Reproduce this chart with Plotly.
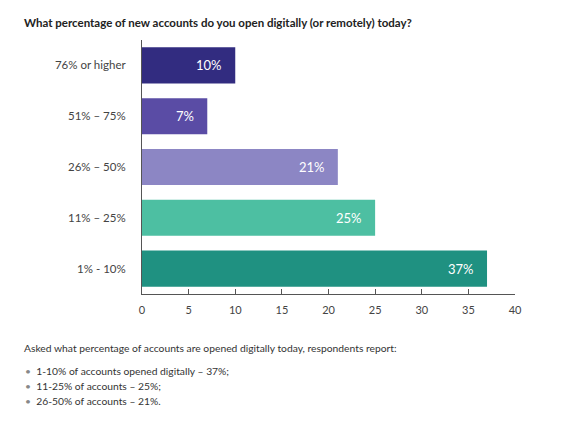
import plotly.graph_objects as go

categories = ["1% - 10%", "11% – 25%", "26% – 50%", "51% – 75%", "76% or higher"]
values = [37, 25, 21, 7, 10]
labels = ["37%", "25%", "21%", "7%", "10%"]
colors = ["#1f9181", "#4dbfa2", "#8c86c4", "#5a4ca5", "#322c80"]
tick_vals = [0, 5, 10, 15, 20, 25, 30, 35, 40]

title = "What percentage of new accounts do you open digitally (or remotely) today?"
note = "Asked what percentage of accounts are opened digitally today, respondents report:"
bullets = [
    "1-10% of accounts opened digitally – 37%;",
    "11-25% of accounts – 25%;",
    "26-50% of accounts – 21%.",
]

FONT = "Lato, 'Open Sans', sans-serif"
PW = 373.0   # plot width px
PH = 254.5   # plot height px

fig = go.Figure()
fig.add_trace(go.Bar(
    y=categories, x=values, orientation="h",
    marker=dict(color=colors, line=dict(width=0)),
    width=0.71, hoverinfo="skip",
))

for c, v, t in zip(categories, values, labels):
    fig.add_annotation(x=v, y=c, text=t, xanchor="right", xshift=-11,
                       showarrow=False, font=dict(family=FONT, size=13, color="white"))

fig.add_annotation(xref="paper", yref="paper", x=-120/PW, y=1 + 18/PH,
                   xanchor="left", yanchor="middle", text="<b>" + title + "</b>",
                   showarrow=False, font=dict(family=FONT, size=11.5, color="#222"))

fig.add_annotation(xref="paper", yref="paper", x=-120/PW, y=-(349 - 294.5)/PH,
                   xanchor="left", yanchor="middle", text=note,
                   showarrow=False, font=dict(family=FONT, size=10.3, color="#333"))
for i, b in enumerate(bullets):
    ypix = 372 + 15 * i
    fig.add_annotation(xref="paper", yref="paper", x=-119/PW, y=-(ypix - 294.5)/PH,
                       xanchor="left", yanchor="middle",
                       text="<span style='color:#888'>•</span>  " + b,
                       showarrow=False, font=dict(family=FONT, size=10.3, color="#333"))

fig.update_layout(
    width=557, height=413,
    margin=dict(l=134, r=50, t=32, b=126.5),
    paper_bgcolor="white", plot_bgcolor="white",
    showlegend=False,
    font=dict(family=FONT, color="#444"),
    xaxis=dict(range=[0, 40], tickvals=tick_vals, showgrid=False, zeroline=False,
               showline=True, linecolor="#555", linewidth=1,
               ticks="inside", ticklen=5, tickcolor="#555",
               ticklabelstandoff=6,
               tickfont=dict(family=FONT, size=11, color="#444"), fixedrange=True),
    yaxis=dict(range=[-0.5, 4.5], showgrid=False, zeroline=False,
               showline=True, linecolor="#555", linewidth=1, ticks="",
               ticklabelstandoff=13,
               tickfont=dict(family=FONT, size=11.5, color="#444"), fixedrange=True),
)

fig.write_html("out.html")
